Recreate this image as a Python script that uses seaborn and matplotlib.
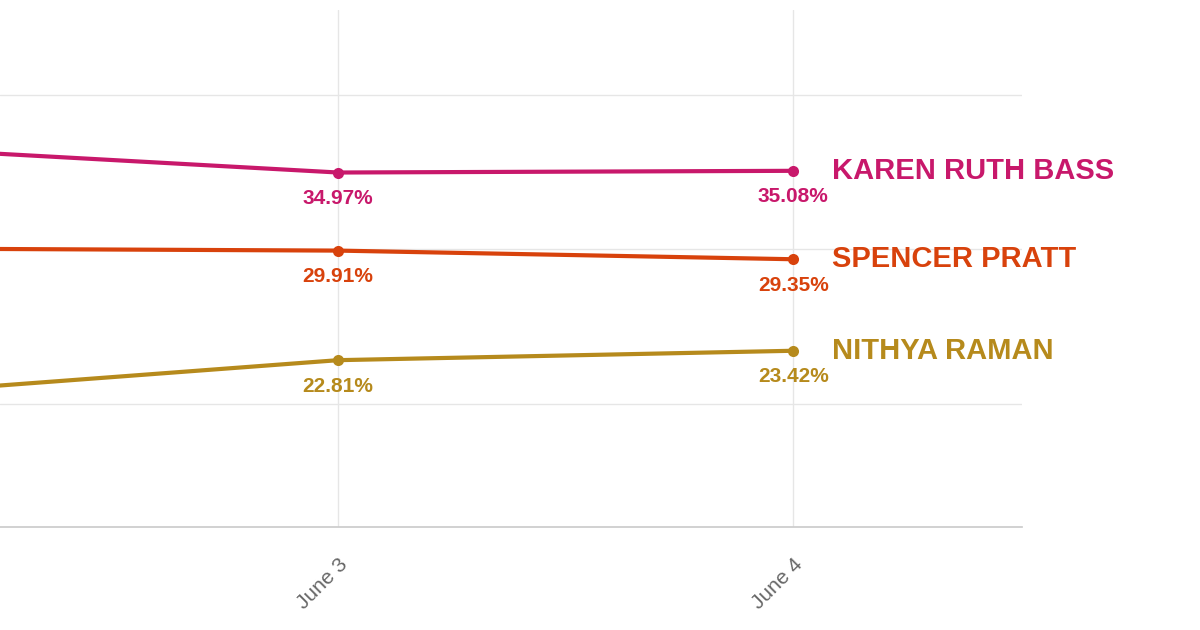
import matplotlib
matplotlib.use("Agg")
import matplotlib.pyplot as plt
import seaborn as sns
import pandas as pd

dates = ["June 2", "June 3", "June 4"]
bass = [36.6, 34.97, 35.08]
pratt = [30.05, 29.91, 29.35]
raman = [20.6, 22.81, 23.42]
names = ["KAREN RUTH BASS", "SPENCER PRATT", "NITHYA RAMAN"]
colors = ["#C8186B", "#D8420C", "#B68A1C"]

sns.set_theme(style="white")
plt.rcParams['font.family'] = ['Liberation Sans', 'DejaVu Sans']

rows = []
for n, vals in zip(names, [bass, pratt, raman]):
    for i, v in enumerate(vals):
        rows.append({"name": n, "x": i, "v": v})
df = pd.DataFrame(rows)

fig = plt.figure(figsize=(12, 6.3), dpi=100)
ax = fig.add_axes([0, 0.1635, 0.8517, 0.8206])
sns.lineplot(data=df, x="x", y="v", hue="name", palette=colors, marker="o",
             markersize=8, markeredgewidth=0, linewidth=3, legend=False, ax=ax)
ax.set_xlim(0.257, 2.503)
ax.set_ylim(12, 45.5)
ax.set_yticks([20, 30, 40])
ax.set_xticks([1, 2])
ax.set_xticklabels(dates[1:], rotation=45, ha="right", rotation_mode="anchor",
                   color="#666666", fontsize=15)
ax.tick_params(axis="x", length=6, color="#cccccc", pad=14)
ax.set_yticklabels([])
ax.tick_params(axis="y", length=0)
ax.grid(True, color="#e6e6e6", linewidth=1)
for s in ["top", "right", "left"]:
    ax.spines[s].set_visible(False)
ax.spines["bottom"].set_color("#cccccc")
ax.set_xlabel("")
ax.set_ylabel("")

for n, vals, c in zip(names, [bass, pratt, raman], colors):
    for i in [1, 2]:
        ax.annotate(f"{vals[i]:.2f}%", (i, vals[i]), xytext=(0, -12),
                    textcoords="offset points", ha="center", va="top",
                    color=c, fontsize=15, fontweight="bold")
    ax.annotate(n, (2, vals[2]), xytext=(28, 0), textcoords="offset points",
                ha="left", va="center", color=c, fontsize=21,
                fontweight="bold", annotation_clip=False)

fig.savefig("out.png", dpi=100)
